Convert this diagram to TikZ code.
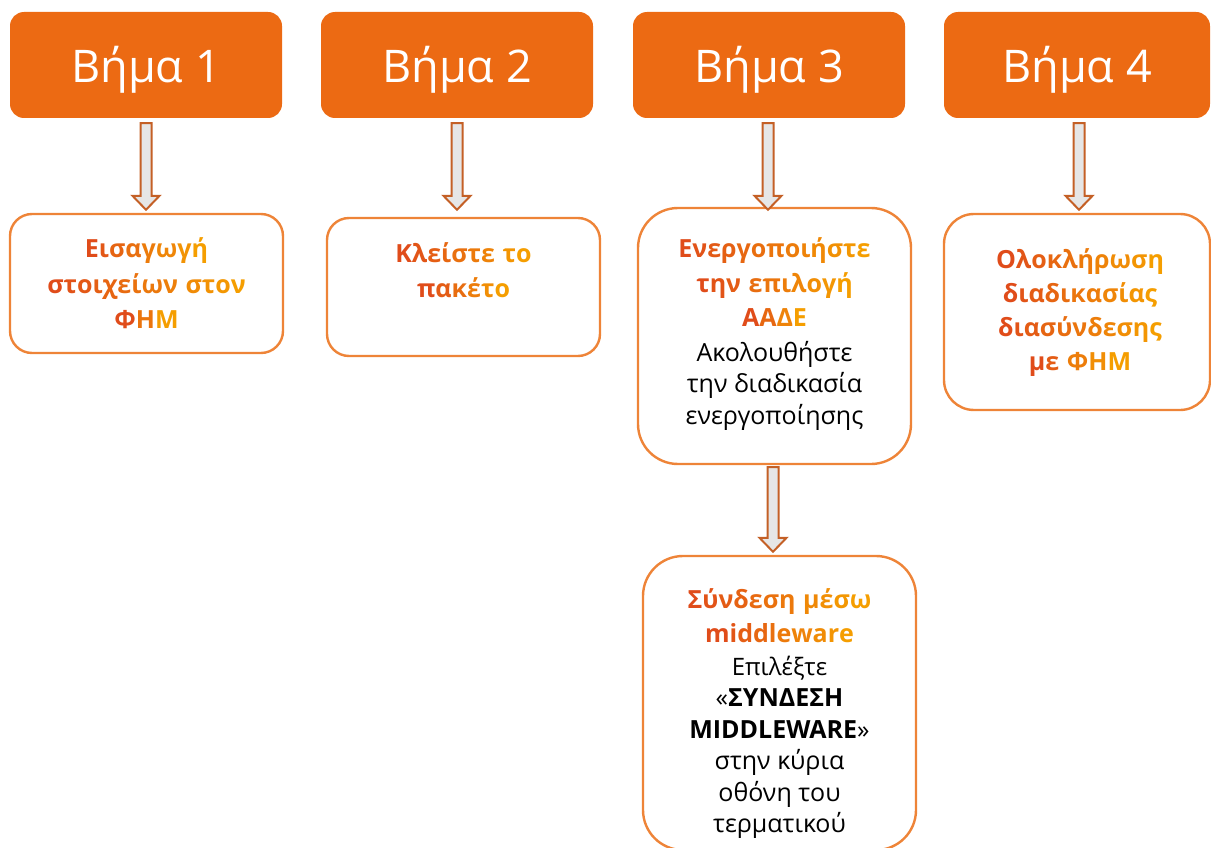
\documentclass[tikz,border=0pt]{standalone}
\usepackage{fontspec}
\setmainfont{Open Sans}
\newfontfamily\gfont[LetterSpace=4.5]{Open Sans}
\usetikzlibrary{calc}
\definecolor{hdr}{RGB}{236,106,19}
\definecolor{bord}{RGB}{238,132,56}
\definecolor{gA}{RGB}{224,76,26}
\definecolor{gB}{RGB}{245,158,0}
\definecolor{arrfill}{RGB}{230,230,230}
\definecolor{arrdraw}{RGB}{196,96,38}

\ExplSyntaxOn
\int_new:N \l_gr_n_int
\int_new:N \l_gr_i_int
\tl_new:N \l_gr_col_tl
\NewDocumentCommand\gradtext{m}{
  \int_set:Nn \l_gr_n_int { \str_count:n {#1} }
  \int_zero:N \l_gr_i_int
  \str_map_inline:nn {#1} {
    \int_incr:N \l_gr_i_int
    \str_if_eq:nnTF {##1} {~}
      { \c_space_tl }
      {
        \tl_set:Nx \l_gr_col_tl { gB ! \int_eval:n { 100 * (\l_gr_i_int - 1) / \int_max:nn {1} {\l_gr_n_int - 1} } ! gA }
        \textcolor{\l_gr_col_tl}{##1}
      }
  }
}
\ExplSyntaxOff

\newcommand\blockarrow[2]{%
  \draw[blockarr] let \p1=#1, \p2=#2 in
    (\x1-5.5pt,\y1) -- (\x1+5.5pt,\y1) -- (\x1+5.5pt,\y2+14pt) -- (\x1+13.5pt,\y2+14pt)
    -- (\x1,\y2) -- (\x1-13.5pt,\y2+14pt) -- (\x1-5.5pt,\y2+14pt) -- cycle;}

\tikzset{
  hdrbox/.style={rectangle, rounded corners=14pt, fill=hdr, text=white, inner sep=0pt,
    minimum height=106pt, font=\fontsize{45}{50}\selectfont, text height=36pt, text depth=0pt},
  stepbox/.style={rectangle, draw=bord, line width=2.4pt, fill=white, inner sep=0pt},
  txt/.style={anchor=base, inner sep=0pt, text=black},
  blockarr/.style={fill=arrfill, draw=arrdraw, line width=2pt, line join=miter},
}

\begin{document}
\begin{tikzpicture}[x=1pt, y=-1pt]
\useasboundingbox (0,0) rectangle (1211,848);

% headers
\node[hdrbox, minimum width=272pt] (h1) at (146,65) {Βήμα 1};
\node[hdrbox, minimum width=272pt] (h2) at (457,65) {Βήμα 2};
\node[hdrbox, minimum width=272pt] (h3) at (769,65) {Βήμα 3};
\node[hdrbox, minimum width=266pt] (h4) at (1077,65) {Βήμα 4};

% step boxes
\node[stepbox, rounded corners=22pt, minimum width=273pt, minimum height=139pt] (b1) at (146.5,283.5) {};
\node[stepbox, rounded corners=22pt, minimum width=273pt, minimum height=138pt] (b2) at (463.5,287) {};
\node[stepbox, rounded corners=40pt, minimum width=273pt, minimum height=256pt] (b3) at (774.5,336) {};
\node[stepbox, rounded corners=40pt, minimum width=273pt, minimum height=294pt] (b5) at (779.5,703) {};
\node[stepbox, rounded corners=30pt, minimum width=266pt, minimum height=196pt] (b4) at (1077,312) {};

% arrows
\blockarrow{($(h1.south)+(0,5)$)}{($(h1.south |- b1.north)+(0,-3)$)}
\blockarrow{($(h2.south)+(0,5)$)}{($(h2.south |- b1.north)+(0,-3)$)}
\blockarrow{($(h3.south)+(-1,5)$)}{($(h3.south |- b1.north)+(-1,-3)$)}
\blockarrow{($(h4.south)+(2,5)$)}{($(h4.south |- b1.north)+(2,-3)$)}
\blockarrow{($(b3.south)+(-1.5,2)$)}{($(b3.south |- b5.north)+(-1.5,-3)$)}

% texts
\node[txt] (t1) at (146.5,258) {\fontsize{25}{35.5}\selectfont\gfont\bfseries
  \begin{tabular}[t]{@{}c@{}}\gradtext{Εισαγωγή}\\\gradtext{στοιχείων στον}\\\gradtext{ΦΗΜ}\end{tabular}};
\node[txt] (t2) at (463.5,262) {\fontsize{25}{35}\selectfont\gfont\bfseries
  \begin{tabular}[t]{@{}c@{}}\gradtext{Κλείστε το}\\\gradtext{πακέτο}\end{tabular}};
\node[txt] (t3) at (774.5,258) {\fontsize{25}{34.5}\selectfont
  \begin{tabular}[t]{@{}c@{}}\gfont\bfseries\gradtext{Ενεργοποιήστε}\\\gfont\bfseries\gradtext{την επιλογή}\\\gfont\bfseries\gradtext{ΑΑΔΕ}\\
  \fontsize{25}{30}\selectfont Ακολουθήστε\\[-3pt]\fontsize{25}{30}\selectfont την διαδικασία\\[-3pt]\fontsize{25}{30}\selectfont ενεργοποίησης\end{tabular}};
\node[txt] (t5) at (779.5,608) {\fontsize{25}{34}\selectfont
  \begin{tabular}[t]{@{}c@{}}\gfont\bfseries\gradtext{Σύνδεση μέσω}\\\gfont\bfseries\gradtext{middleware}\\[-1pt]
  \fontsize{24}{30}\selectfont Επιλέξτε\\[-2.5pt]\fontsize{25}{30}\selectfont «\textbf{ΣΥΝΔΕΣΗ}\\[-2.5pt]\fontsize{25}{30}\selectfont\textbf{MIDDLEWARE}»\\[-2.5pt]
  \fontsize{25}{30}\selectfont στην κύρια\\[-2.5pt]\fontsize{25}{30}\selectfont οθόνη του\\[-2.5pt]\fontsize{25}{30}\selectfont τερματικού\end{tabular}};
\node[txt] (t4) at (1080,268) {\fontsize{25}{34}\selectfont\gfont\bfseries
  \begin{tabular}[t]{@{}c@{}}\gradtext{Ολοκλήρωση}\\\gradtext{διαδικασίας}\\\gradtext{διασύνδεσης}\\\gradtext{με ΦΗΜ}\end{tabular}};
\end{tikzpicture}
\end{document}
